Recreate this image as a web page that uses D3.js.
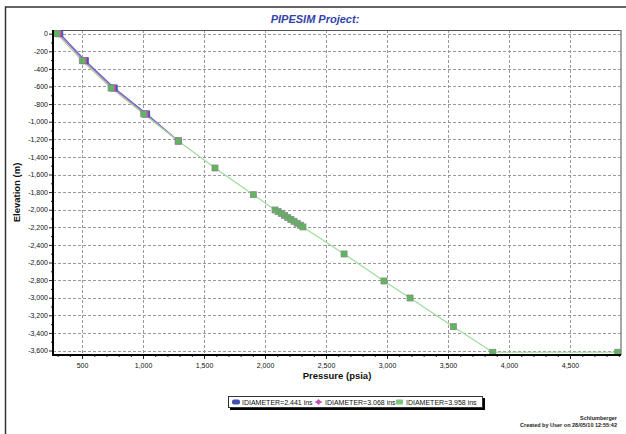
<!DOCTYPE html>
<html>
<head>
<meta charset="utf-8">
<script src="https://cdn.jsdelivr.net/npm/d3@7"></script>
<style>
  body { margin: 0; background: #fff; }
  svg { display: block; font-family: Arial, "Liberation Sans", sans-serif; }
  .grid line { stroke: #9a9a9a; stroke-dasharray: 3,2; stroke-width: 1; }
  .axis text { font-size: 7px; fill: #111; }
  .axis path { display: none; }
  .axis line { stroke: #222; }
</style>
</head>
<body>
<script>
// series: pressure (psia) vs elevation (m)
var p_2441 = [318, 527, 764, 1030, 1289];
var e_2441 = [0, -307, -617, -912, -1219];
var p_3068 = [306, 515, 752, 1018, 1289];
var e_3068 = [0, -307, -617, -912, -1219];
var p_3958 = [293, 502, 738, 1006, 1289, 1590, 1904, 2082, 2108, 2134, 2160, 2186, 2212, 2238, 2264, 2290, 2311, 2648, 2975, 3189, 3544, 3867, 4891];
var e_3958 = [0, -307, -617, -912, -1219, -1526, -1829, -2003, -2022, -2044, -2066, -2089, -2110, -2132, -2154, -2176, -2196, -2503, -2810, -3003, -3329, -3620, -3620];
var seriesNames = ["IDIAMETER=2.441 ins", "IDIAMETER=3.068 ins", "IDIAMETER=3.958 ins"];
var xTicks = [500, 1000, 1500, 2000, 2500, 3000, 3500, 4000, 4500];
var yTicks = [0, -200, -400, -600, -800, -1000, -1200, -1400, -1600, -1800, -2000, -2200, -2400, -2600, -2800, -3000, -3200, -3400, -3600];

var W = 626, H = 434;
var pl = 53, pr = 621, pt = 30, pb = 355;

var fmt = d3.formatLocale({decimal: ".", thousands: ",", grouping: [3], currency: ["$", ""], minus: "-"}).format(",");

var svg = d3.select("body").append("svg").attr("width", W).attr("height", H);

// outer frame
svg.append("rect")
  .attr("x", 5.5).attr("y", 7).attr("width", 700).attr("height", 500)
  .attr("fill", "none").attr("stroke", "#333").attr("stroke-width", 1.5);

var x = d3.scaleLinear().domain([262, 4918]).range([pl, pr]);
var y = d3.scaleLinear().domain([42, -3651]).range([pt, pb]);

// grid
var grid = svg.append("g").attr("class", "grid");
grid.selectAll(".h").data(yTicks).enter().append("line")
  .attr("x1", pl).attr("x2", pr)
  .attr("y1", function(d){ return Math.round(y(d)) + 0.5; })
  .attr("y2", function(d){ return Math.round(y(d)) + 0.5; });
grid.selectAll(".v").data(xTicks).enter().append("line")
  .attr("y1", pt).attr("y2", pb)
  .attr("x1", function(d){ return Math.round(x(d)) + 0.5; })
  .attr("x2", function(d){ return Math.round(x(d)) + 0.5; });

// minor ticks
var minorX = d3.range(300, 4901, 100).filter(function(d){ return d % 500 != 0; });
var minorY = d3.range(-3600, 1, 100).filter(function(d){ return d % 200 != 0; });
svg.append("g").attr("class", "axis")
  .attr("transform", "translate(0," + pb + ")")
  .call(d3.axisBottom(x).tickValues(minorX).tickSize(2).tickFormat(""));
svg.append("g").attr("class", "axis")
  .attr("transform", "translate(" + pl + ",0)")
  .call(d3.axisLeft(y).tickValues(minorY).tickSize(2).tickFormat(""));

// major axes
svg.append("g").attr("class", "axis")
  .attr("transform", "translate(0," + pb + ")")
  .call(d3.axisBottom(x).tickValues(xTicks).tickSize(4).tickPadding(4).tickFormat(fmt));
svg.append("g").attr("class", "axis")
  .attr("transform", "translate(" + pl + ",0)")
  .call(d3.axisLeft(y).tickValues(yTicks).tickSize(4).tickPadding(1).tickFormat(fmt));

// plot border
svg.append("line").attr("x1", pl).attr("x2", pr).attr("y1", pt + 0.5).attr("y2", pt + 0.5)
  .attr("stroke", "#555").attr("stroke-width", 1);
svg.append("line").attr("x1", pr).attr("x2", pr).attr("y1", pt).attr("y2", pb)
  .attr("stroke", "#888").attr("stroke-width", 1.5);

// series
var series = [
  {p: p_2441, e: e_2441, line: "#5466c8", fill: "#3f50b0", stroke: "#3f50b0"},
  {p: p_3068, e: e_3068, line: "#c462c8", fill: "#c84fb8", stroke: "#b048a8"},
  {p: p_3958, e: e_3958, line: "#9edc9a", fill: "#5cb85c", stroke: "#8a8a8a"}
];
var line = d3.line().x(function(d){ return x(d[0]); }).y(function(d){ return y(d[1]); });
var ms = 6;
series.forEach(function(s){
  var pts = s.p.map(function(v, i){ return [v, s.e[i]]; });
  svg.append("path").datum(pts).attr("d", line)
    .attr("fill", "none").attr("stroke", s.line).attr("stroke-width", 1.2);
});
series.forEach(function(s){
  var pts = s.p.map(function(v, i){ return [v, s.e[i]]; });
  svg.append("g").selectAll("rect").data(pts).enter().append("rect")
    .attr("x", function(d){ return x(d[0]) - ms / 2; })
    .attr("y", function(d){ return y(d[1]) - ms / 2; })
    .attr("width", ms).attr("height", ms)
    .attr("fill", s.fill).attr("stroke", s.stroke).attr("stroke-width", 0.8);
});

// bottom/left axis lines on top
svg.append("line").attr("x1", pl).attr("x2", pr).attr("y1", pb).attr("y2", pb)
  .attr("stroke", "#000").attr("stroke-width", 2);
svg.append("line").attr("x1", pl).attr("x2", pl).attr("y1", pt).attr("y2", pb + 1)
  .attr("stroke", "#000").attr("stroke-width", 2);

// title
svg.append("text")
  .attr("x", 315).attr("y", 23)
  .attr("text-anchor", "middle")
  .attr("style", "font-size:11px;font-weight:bold;font-style:italic;fill:#3344aa")
  .text("PIPESIM Project:");

// axis titles
svg.append("text")
  .attr("x", (pl + pr) / 2).attr("y", 379)
  .attr("text-anchor", "middle")
  .attr("style", "font-size:9.5px;font-weight:bold;fill:#111")
  .text("Pressure (psia)");
svg.append("text")
  .attr("transform", "translate(20," + ((pt + pb) / 2) + ") rotate(-90)")
  .attr("text-anchor", "middle")
  .attr("style", "font-size:9.5px;font-weight:bold;fill:#111")
  .text("Elevation (m)");

// legend
var lg = svg.append("g");
lg.append("rect").attr("x", 230).attr("y", 398).attr("width", 255).attr("height", 12).attr("fill", "#000");
lg.append("rect").attr("x", 228.5).attr("y", 396.5).attr("width", 254).attr("height", 11)
  .attr("fill", "#fff").attr("stroke", "#333").attr("stroke-width", 1);
var lx = [232, 315, 396];
// blue
lg.append("rect").attr("x", lx[0]).attr("y", 399.5).attr("width", 8).attr("height", 5).attr("rx", 2)
  .attr("fill", series[0].fill);
// pink
lg.append("line").attr("x1", lx[1]).attr("x2", lx[1] + 7).attr("y1", 402).attr("y2", 402)
  .attr("stroke", series[1].line).attr("stroke-width", 1.2);
lg.append("path").attr("d", "M" + (lx[1] + 3.5) + ",399 l3,3 l-3,3 l-3,-3 z").attr("fill", series[1].fill);
// green
lg.append("rect").attr("x", lx[2]).attr("y", 399.5).attr("width", 7).attr("height", 5).attr("rx", 1)
  .attr("fill", "#7cc67c");
lg.selectAll("text.lt").data(seriesNames).enter().append("text")
  .attr("x", function(d, i){ return lx[i] + 10; })
  .attr("y", 404.5)
  .attr("style", "font-size:7px;fill:#111")
  .text(function(d){ return d; });

// footer
svg.append("text").attr("x", 617).attr("y", 420).attr("text-anchor", "end")
  .attr("style", "font-size:5.5px;font-weight:bold;fill:#222")
  .text("Schlumberger");
svg.append("text").attr("x", 617).attr("y", 426.5).attr("text-anchor", "end")
  .attr("style", "font-size:5.5px;font-weight:bold;fill:#222")
  .text("Created by User on 28/05/10   12:55:42");
</script>
</body>
</html>
